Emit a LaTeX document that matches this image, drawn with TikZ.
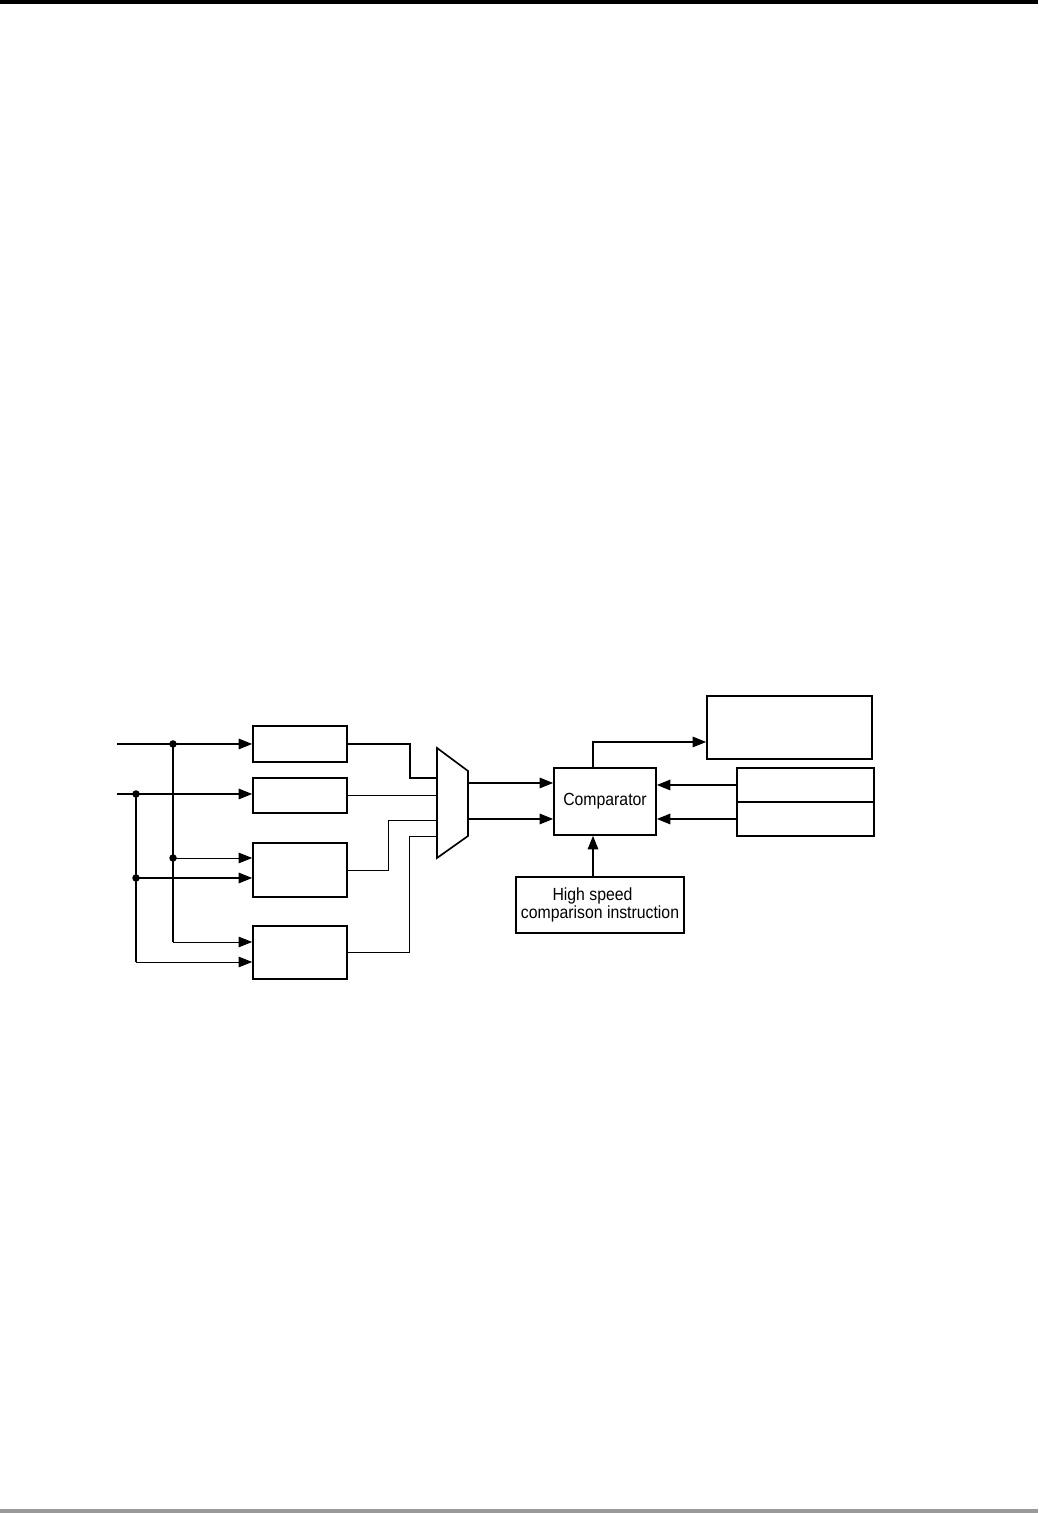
\documentclass[tikz,border=0pt]{standalone}
\usepackage{fontspec}
\setmainfont{Liberation Sans}[FakeStretch=0.9]
\usetikzlibrary{arrows.meta}

\tikzset{
  blk/.style={draw,line width=0.95pt,inner sep=0pt},
  wire/.style={line width=0.8pt},
  fine/.style={line width=0.5pt},
  arr/.style={-{Triangle[length=0.27cm,width=0.21cm]}},
}

\begin{document}
\begin{tikzpicture}[font=\fontsize{10}{9.8}\selectfont]
  \useasboundingbox (0,0) rectangle (20.76,30.26);
  % page rules
  \fill[black] (0,30.18) rectangle (20.76,30.26);
  \fill[black!40] (0,0) rectangle (20.76,0.08);

  % counter blocks
  \node[blk,minimum width=1.88cm,minimum height=0.72cm] (cnta) at (6.00,15.38) {};
  \node[blk,minimum width=1.88cm,minimum height=0.70cm] (cntb) at (6.00,14.35) {};
  \node[blk,minimum width=1.88cm,minimum height=1.08cm] (cntc) at (6.00,12.86) {};
  \node[blk,minimum width=1.88cm,minimum height=1.06cm] (cntd) at (6.00,11.21) {};

  % comparator and its neighbours
  \node[blk,minimum width=2.04cm,minimum height=1.34cm] (cmp) at (12.10,14.23) {Comparator};
  \node[blk,minimum width=3.30cm,minimum height=1.26cm] (res) at (15.79,15.71) {};
  \node[blk,minimum width=2.74cm,minimum height=0.68cm] (rga) at (16.11,14.56) {};
  \node[blk,minimum width=2.74cm,minimum height=0.68cm] (rgb) at (16.11,13.88) {};
  \node[blk,minimum width=3.36cm,minimum height=1.12cm,align=center] (hsc) at (12.00,12.16)
    {High speed\hspace*{0.3cm}\\ comparison instruction};

  % multiplexer
  \draw[blk] (8.74,15.30) -- (9.36,14.84) -- (9.36,13.54) -- (8.74,13.10) -- cycle;
  \coordinate (mia) at (8.74,14.70);
  \coordinate (mic) at (8.74,13.86);
  \coordinate (mid) at (8.74,13.54);
  \coordinate (moa) at (9.36,14.60);
  \coordinate (mob) at (9.36,13.88);

  % input lines and junctions
  \coordinate (ina) at (2.34,15.38);
  \coordinate (inb) at (2.34,14.38);
  \coordinate (ja) at (3.46,15.38);
  \coordinate (jb) at (2.72,14.38);
  \coordinate (jc) at (3.46,13.10);
  \coordinate (jd) at (2.72,12.70);
  \coordinate (ke) at (3.46,11.42);
  \coordinate (kf) at (2.72,11.02);

  \draw[wire] (ina) -- (ja);
  \draw[wire,arr] (ja) -- (cnta.west);
  \draw[wire] (inb) -- (jb);
  \draw[wire,arr] (jb) -- (cntb.west |- jb);
  \draw[fine,arr] (jc) -- (cntc.west |- jc);
  \draw[wire,arr] (jd) -- (cntc.west |- jd);
  \draw[wire] (ja) -- (ke);
  \draw[wire] (jb) -- (kf);
  \draw[fine,arr] (ke) -- (cntd.west |- ke);
  \draw[fine,arr] (kf) -- (cntd.west |- kf);
  \foreach \p in {ja,jb,jc,jd}
    \fill (\p) circle (0.075);

  % counters into multiplexer
  \draw[wire] (cnta.east) -- ++(1.24,0) |- (mia);
  \draw[fine] (cntb.east) -- (cntb.east -| mia);
  \draw[fine] (cntc.east) -- ++(0.82,0) |- (mic);
  \draw[fine] (cntd.east) -- ++(1.24,0) |- (mid);

  % multiplexer into comparator
  \draw[wire,arr] (moa) -- (moa -| cmp.west);
  \draw[wire,arr] (mob) -- (mob -| cmp.west);

  % registers into comparator
  \draw[wire,arr] (rga.west) -- (rga.west -| cmp.east);
  \draw[wire,arr] (rgb.west) -- (rgb.west -| cmp.east);

  % comparator output
  \draw[wire,arr] ([xshift=-0.24cm]cmp.north) |- ([yshift=-0.29cm]res.west);

  % instruction into comparator
  \coordinate (hscin) at ([xshift=-0.14cm]hsc.north);
  \draw[wire,arr] (hscin) -- (hscin |- cmp.south);
\end{tikzpicture}
\end{document}
